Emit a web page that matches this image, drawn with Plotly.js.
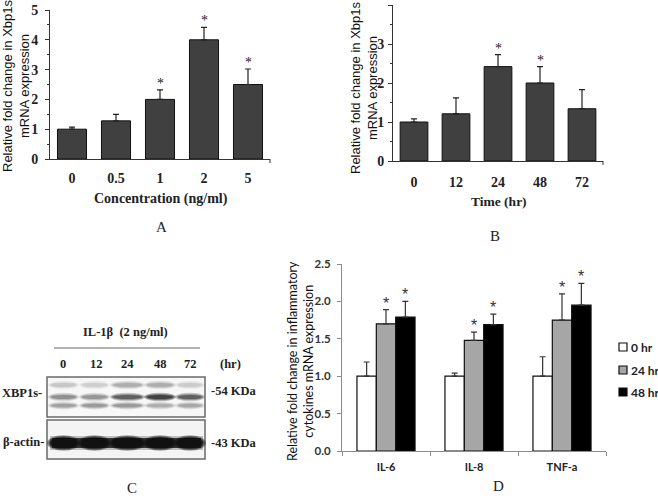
<!DOCTYPE html>
<html>
<head>
<meta charset="utf-8">
<script src="https://cdn.plot.ly/plotly-3.0.1.min.js"></script>
<style>html,body{margin:0;padding:0;background:#fff;}#chart{width:658px;height:499px;}</style>
</head>
<body>
<div id="chart"></div>
<script>
// ---------- data ----------
const concCategories = ['0', '0.5', '1', '2', '5'];
const concValues = [1.0, 1.28, 2.0, 4.0, 2.5];
const concErrors = [0.07, 0.22, 0.32, 0.42, 0.52];
const concSignificant = [false, false, true, true, true];

const timeCategories = ['0', '12', '24', '48', '72'];
const timeValues = [1.0, 1.21, 2.42, 2.0, 1.34];
const timeErrors = [0.08, 0.41, 0.31, 0.42, 0.49];
const timeSignificant = [false, false, true, true, false];

const cytokines = ['IL-6', 'IL-8', 'TNF-a'];
const seriesNames = ['0 hr', '24 hr', '48 hr'];
const cyto0hr = [1.0, 1.0, 1.0];
const cyto0hrErr = [0.19, 0.04, 0.26];
const cyto24hr = [1.70, 1.48, 1.75];
const cyto24hrErr = [0.19, 0.11, 0.35];
const cyto48hr = [1.79, 1.69, 1.95];
const cyto48hrErr = [0.21, 0.14, 0.29];
const cytoSignificant = [false, true, true];

const blotLanes = ['0', '12', '24', '48', '72'];

// ---------- helpers ----------
const W = 658, H = 499;
const X = p => p / W;
const Y = p => 1 - p / H;
const serif = 'Liberation Serif, Times New Roman, serif';
const sans = 'Liberation Sans, Arial, sans-serif';
const cal = 'Lato, Open Sans, sans-serif';
const zeros = n => new Array(n).fill(0);

function errY(arr, color) {
  return {type: 'data', array: arr, arrayminus: zeros(arr.length), symmetric: false,
          color: color || '#222', thickness: 1.2, width: 3};
}

const traces = [
  {type: 'bar', x: concCategories, y: concValues, xaxis: 'x', yaxis: 'y',
   marker: {color: '#404040', line: {color: '#111', width: 1}},
   error_y: errY(concErrors), showlegend: false, hoverinfo: 'x+y'},
  {type: 'bar', x: timeCategories, y: timeValues, xaxis: 'x2', yaxis: 'y2',
   marker: {color: '#404040', line: {color: '#111', width: 1}},
   error_y: errY(timeErrors), showlegend: false, hoverinfo: 'x+y'},
  {type: 'bar', name: seriesNames[0], x: cytokines, y: cyto0hr, xaxis: 'x3', yaxis: 'y3',
   marker: {color: '#ffffff', line: {color: '#111', width: 1.2}},
   error_y: errY(cyto0hrErr, '#333'), showlegend: false},
  {type: 'bar', name: seriesNames[1], x: cytokines, y: cyto24hr, xaxis: 'x3', yaxis: 'y3',
   marker: {color: '#a6a6a6', line: {color: '#111', width: 1.2}},
   error_y: errY(cyto24hrErr, '#333'), showlegend: false},
  {type: 'bar', name: seriesNames[2], x: cytokines, y: cyto48hr, xaxis: 'x3', yaxis: 'y3',
   marker: {color: '#000000', line: {color: '#111', width: 1.2}},
   error_y: errY(cyto48hrErr, '#333'), showlegend: false}
];

const annotations = [];
const shapes = [];

// stars
const starFontA = {family: serif, size: 14, color: '#222'};
concCategories.forEach((c, i) => {
  if (concSignificant[i]) annotations.push({xref: 'x', yref: 'y', x: i, y: concValues[i] + concErrors[i],
    text: '*', showarrow: false, yanchor: 'bottom', yshift: -3, font: starFontA});
});
timeCategories.forEach((c, i) => {
  if (timeSignificant[i]) annotations.push({xref: 'x2', yref: 'y2', x: i, y: timeValues[i] + timeErrors[i],
    text: '*', showarrow: false, yanchor: 'bottom', yshift: -3, font: starFontA});
});
const cytoSeries = [[cyto0hr, cyto0hrErr], [cyto24hr, cyto24hrErr], [cyto48hr, cyto48hrErr]];
const bargap = 0.34, nSeries = 3, bw = (1 - bargap) / nSeries;
cytoSeries.forEach((s, k) => {
  if (!cytoSignificant[k]) return;
  cytokines.forEach((c, i) => {
    annotations.push({xref: 'x3', yref: 'y3', x: i + (k - 1) * bw, y: s[0][i] + s[1][i],
      text: '*', showarrow: false, yanchor: 'bottom', yshift: -4, font: {family: sans, size: 16, color: '#333'}});
  });
});

// axis titles & panel letters
function ann(text, x, y, opts) {
  annotations.push(Object.assign({xref: 'paper', yref: 'paper', x: X(x), y: Y(y), text: text,
    showarrow: false, xanchor: 'center', yanchor: 'middle'}, opts || {}));
}
ann('Relative fold change in Xbp1s<br>mRNA expression', 16, 86, {textangle: -90,
    font: {family: sans, size: 13, color: '#111'}});
ann('Relative fold change in Xbp1s<br>mRNA expression', 364, 88, {textangle: -90,
    font: {family: sans, size: 13, color: '#111'}});
ann('Relative fold change in inflammatory<br>cytokines mRNA expression', 300, 361, {textangle: -90,
    font: {family: cal, size: 12.5, color: '#111'}});
ann('<b>Concentration (ng/ml)</b>', 161, 199, {font: {family: serif, size: 14, color: '#222'}});
ann('<b>Time (hr)</b>', 499, 202, {font: {family: serif, size: 13.5, color: '#222'}});
ann('A', 161, 227, {font: {family: serif, size: 15, color: '#222'}});
ann('B', 495, 236, {font: {family: serif, size: 15, color: '#222'}});
ann('C', 132, 488, {font: {family: serif, size: 15, color: '#222'}});
ann('D', 498, 486, {font: {family: serif, size: 15, color: '#222'}});

// legend for D (manual)
const legendFills = ['#ffffff', '#a6a6a6', '#000000'];
const legendY = [347, 370, 392];
seriesNames.forEach((n, i) => {
  shapes.push({type: 'rect', xref: 'paper', yref: 'paper', x0: X(619), x1: X(627), y0: Y(legendY[i] + 4), y1: Y(legendY[i] - 4),
    fillcolor: legendFills[i], line: {color: '#111', width: 1.2}});
  ann('<b>' + n + '</b>', 629, legendY[i], {xanchor: 'left', font: {family: cal, size: 12, color: '#222'}});
});

// end ticks on x axes of A and B
shapes.push({type: 'line', xref: 'paper', yref: 'paper', x0: X(270), x1: X(270), y0: Y(159), y1: Y(163), line: {color: '#333', width: 1}});
shapes.push({type: 'line', xref: 'paper', yref: 'paper', x0: X(603), x1: X(603), y0: Y(161), y1: Y(165), line: {color: '#333', width: 1}});

// ---------- western blot (panel C) ----------
function rect(x0, x1, y0, y1, fill, line) {
  shapes.push({type: 'rect', xref: 'paper', yref: 'paper', x0: X(x0), x1: X(x1), y0: Y(y1), y1: Y(y0),
    fillcolor: fill, line: line || {width: 0}});
}
function ell(x0, x1, y0, y1, fill) {
  shapes.push({type: 'circle', xref: 'paper', yref: 'paper', x0: X(x0), x1: X(x1), y0: Y(y1), y1: Y(y0),
    fillcolor: fill, line: {width: 0}});
}
// soft band: stacked ellipses to imitate blur
function band(x0, x1, yc, h, alpha, rgb) {
  const steps = [[3, 2.2, 0.25], [1.5, 1.1, 0.35], [0, 0, 0.5]];
  steps.forEach(s => {
    ell(x0 - s[0], x1 + s[0], yc - h / 2 - s[1], yc + h / 2 + s[1], 'rgba(' + rgb + ',' + (alpha * s[2]).toFixed(3) + ')');
  });
}
rect(47, 205, 377, 417, '#f7f7f7', {color: '#6a6a6a', width: 1.5});
rect(47, 205, 420, 459, '#f4f4f4', {color: '#6a6a6a', width: 1.5});
const laneX = [[51, 76], [82, 107], [113, 142], [147, 173], [178, 202]];
const upperA = [0.25, 0.2, 0.4, 0.4, 0.22];
const midA = [0.55, 0.5, 0.95, 1.3, 0.95];
const lowerA = [0.5, 0.55, 0.55, 0.4, 0.45];
laneX.forEach((lx, i) => {
  band(lx[0], lx[1], 385, 4, upperA[i], '60,60,60');
  band(lx[0], lx[1], 397, 4, midA[i], '40,40,40');
  band(lx[0], lx[1], 405.5, 3.5, lowerA[i], '60,60,60');
});
// actin band
rect(50, 203, 436, 450, 'rgba(30,30,30,0.25)');
rect(52, 201, 438, 448, 'rgba(20,20,20,0.8)');
laneX.forEach(lx => {
  band(lx[0] - 1, lx[1] + 1, 443, 11, 1.5, '15,15,15');
});
shapes.push({type: 'line', xref: 'paper', yref: 'paper', x0: X(54), x1: X(200), y0: Y(348), y1: Y(348),
  line: {color: '#666', width: 1}});
const blotFont = {family: serif, size: 12.5, color: '#222'};
ann('<b>IL-1β  (2 ng/ml)</b>', 125, 332, {font: blotFont});
const laneLabelX = [63, 96, 127, 160, 190];
blotLanes.forEach((l, i) => ann('<b>' + l + '</b>', laneLabelX[i], 364, {font: blotFont}));
ann('<b>(hr)</b>', 230, 364, {font: blotFont});
ann('<b>XBP1s-</b>', 22, 393, {font: blotFont});
ann('<b>β-actin-</b>', 23, 442, {font: blotFont});
ann('<b>-54 KDa</b>', 209, 391, {xanchor: 'left', font: blotFont});
ann('<b>-43 KDa</b>', 209, 443, {xanchor: 'left', font: blotFont});

// ---------- layout ----------
const tickSerif = {family: serif, size: 14, color: '#222', weight: 'bold'};
const layout = {
  width: W, height: H,
  margin: {l: 0, r: 0, t: 0, b: 0},
  paper_bgcolor: '#ffffff', plot_bgcolor: 'rgba(0,0,0,0)',
  barmode: 'group', bargap: bargap, bargroupgap: 0,
  showlegend: false,
  xaxis: {domain: [X(50), X(270)], anchor: 'y', type: 'category', showline: true, linecolor: '#333', linewidth: 1,
    ticks: '', tickfont: tickSerif, ticklabelstandoff: 6, showgrid: false, zeroline: false, fixedrange: true},
  yaxis: {domain: [Y(159), Y(10)], anchor: 'x', range: [0, 5], dtick: 1, ticks: 'outside', ticklen: 4, tickcolor: '#333',
    showline: true, linecolor: '#333', linewidth: 1, tickfont: tickSerif, ticklabelstandoff: 4,
    minor: {ticks: 'outside', ticklen: 2.5, dtick: 0.5, tickcolor: '#333', showgrid: false},
    showgrid: false, zeroline: false, fixedrange: true},
  xaxis2: {domain: [X(393), X(603)], anchor: 'y2', type: 'category', showline: true, linecolor: '#333', linewidth: 1,
    ticks: '', tickfont: tickSerif, ticklabelstandoff: 8, showgrid: false, zeroline: false, fixedrange: true},
  yaxis2: {domain: [Y(161), Y(5)], anchor: 'x2', range: [0, 4], dtick: 1, ticks: 'outside', ticklen: 4, tickcolor: '#333',
    showline: true, linecolor: '#333', linewidth: 1, tickfont: tickSerif, ticklabelstandoff: 1,
    minor: {ticks: 'outside', ticklen: 2.5, dtick: 0.5, tickcolor: '#333', showgrid: false},
    showgrid: false, zeroline: false, fixedrange: true},
  xaxis3: {domain: [X(342), X(606)], anchor: 'y3', type: 'category', showline: true, linecolor: '#8c8c8c', linewidth: 1,
    ticks: 'outside', tickson: 'boundaries', ticklen: 4, tickcolor: '#8c8c8c',
    tickfont: {family: cal, size: 11, color: '#222', weight: 'bold'}, ticklabelstandoff: 6,
    showgrid: false, zeroline: false, fixedrange: true},
  yaxis3: {domain: [Y(451), Y(264)], anchor: 'x3', range: [0, 2.5], dtick: 0.5, tickformat: '.1f',
    ticks: 'outside', ticklen: 4, tickcolor: '#8c8c8c', showline: true, linecolor: '#8c8c8c', linewidth: 1,
    tickfont: {family: cal, size: 11.5, color: '#333', weight: 'bold'}, ticklabelstandoff: 4,
    showgrid: false, zeroline: false, fixedrange: true},
  annotations: annotations,
  shapes: shapes
};

Plotly.newPlot('chart', traces, layout, {displayModeBar: false, staticPlot: true});
</script>
</body>
</html>
